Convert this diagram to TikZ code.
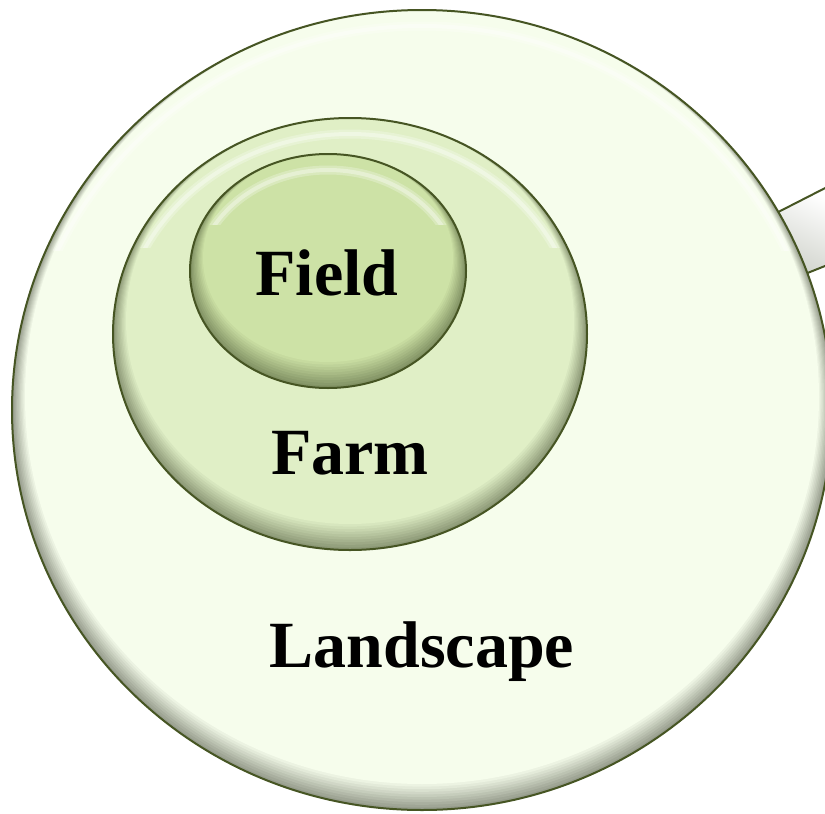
\documentclass[tikz,border=0pt]{standalone}
\usepackage{fontspec}
\setmainfont{Liberation Serif}
\definecolor{outl}{RGB}{70,85,35}
\definecolor{bigmain}{RGB}{246,253,236}
\definecolor{bigshad}{RGB}{150,156,140}
\definecolor{farmmain}{RGB}{224,239,198}
\definecolor{farmshad}{RGB}{140,152,118}
\definecolor{fieldmain}{RGB}{205,226,166}
\definecolor{fieldshad}{RGB}{130,146,100}
\newcommand\bevelell[6]{%
 \begin{scope}
  \clip (#1,#2) ellipse [x radius=#3, y radius=#4];
  \fill[#6] (#1,#2) ellipse [x radius=#3, y radius=#4];
  \foreach \i in {1,...,10}{
    \pgfmathtruncatemacro\pp{100-\i*10}
    \pgfmathsetmacro\dd{\i*1.3}
    \fill[#6!\pp!#5] (#1,{#2-\dd}) ellipse [x radius={#3-\dd}, y radius={#4-\dd}];
  }
  \begin{scope}
   \clip (#1-#3,#2-#4) rectangle (#1+#3,#2-0.4*#4);
   \draw[white, line width=9, opacity=0.25] (#1,#2+12) ellipse [x radius={#3-6}, y radius={#4-4}];
   \draw[white, line width=4, opacity=0.35] (#1,#2+12) ellipse [x radius={#3-6}, y radius={#4-4}];
  \end{scope}
 \end{scope}
 \draw[outl, line width=2] (#1,#2) ellipse [x radius=#3, y radius=#4];
}
\begin{document}
\begin{tikzpicture}[x=1pt,y=-1pt,
  lbl/.style={font=\fontsize{66}{70}\selectfont\bfseries, text=black, inner sep=0pt, anchor=base}]
\useasboundingbox (0,0) rectangle (825,814);
\clip (0,0) rectangle (825,814);
% handle
\shade[top color=white, bottom color=bigshad!60!white, shading angle=-25]
  (745,229) -- (835,183) -- (835,262) -- (745,298) -- cycle;
\draw[outl, line width=2] (745,229) -- (835,183);
\draw[outl, line width=2] (745,298) -- (835,262);
% rings
\bevelell{422}{410}{410}{400}{bigmain}{bigshad}
\bevelell{350}{334}{237}{216}{farmmain}{farmshad}
\bevelell{328}{271}{138}{117}{fieldmain}{fieldshad}
% labels
\node[lbl] (field) at (327,295) {Field};
\node[lbl] (farm) at (350,474) {Farm};
\node[lbl] (landscape) at (422,667) {Landscape};
\end{tikzpicture}
\end{document}
